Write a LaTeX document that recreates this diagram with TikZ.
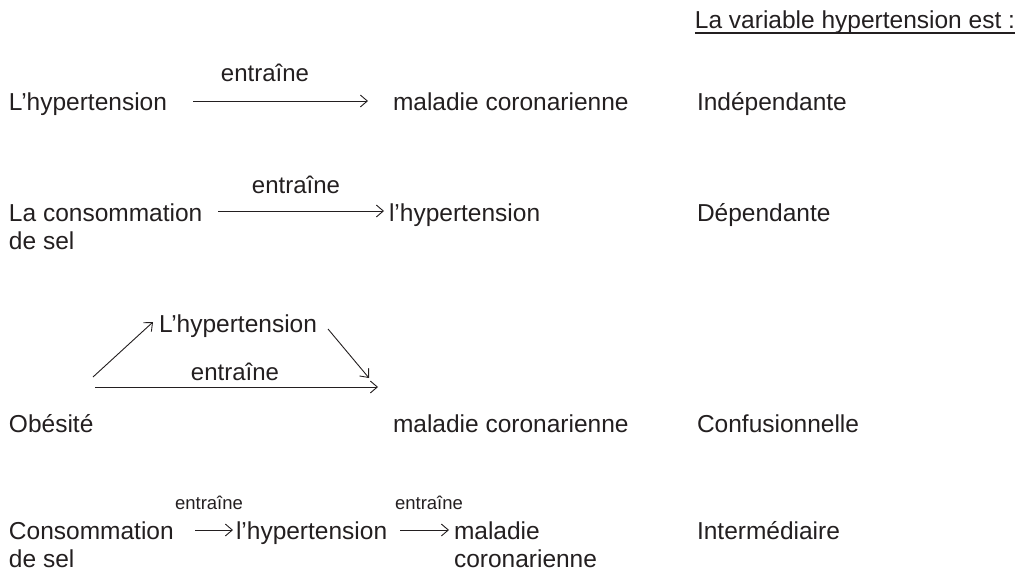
\documentclass[tikz,border=0pt]{standalone}
\usepackage{fontspec}
\setmainfont{Liberation Sans}
\usetikzlibrary{arrows.meta,calc}
\definecolor{ink}{HTML}{231F20}
\newcommand{\twolines}[2]{\vtop{\baselineskip=28pt\hbox{#1}\hbox{#2}}}
\begin{document}
\begin{tikzpicture}[x=1pt,y=-1pt,
  lbl/.style={inner sep=0pt,outer sep=0pt,anchor=base west,text=ink,font=\fontsize{24.5}{28}\selectfont},
  verb/.style={inner sep=0pt,outer sep=0pt,anchor=base,text=ink,font=\fontsize{24}{28}\selectfont},
  smallverb/.style={inner sep=0pt,outer sep=0pt,anchor=base,text=ink,font=\fontsize{18.5}{22}\selectfont},
  arr/.style={draw=ink,line width=0.9pt,-{Straight Barb[length=7pt,width=12pt,line width=0.9pt]}}]
\useasboundingbox (0,0) rectangle (1022,569);
% title
\node[lbl,anchor=base east] (title) at (1015,29) {La variable hypertension est :};
\draw[ink,line width=1.3pt] ($(title.base west)+(0,4)$) -- ($(title.base east)+(0,4)$);
% row 1
\node[lbl] (r1a) at (9,111) {L’hypertension};
\node[lbl] (r1b) at (393,111) {maladie coronarienne};
\node[lbl] (r1c) at (697,111) {Indépendante};
\node[verb] (r1v) at (265,82) {entraîne};
\draw[arr] ($(r1a.base east)+(26,-10)$) -- ($(r1b.base west)+(-25,-10)$);
% row 2
\node[lbl] (r2a) at (9,222) {\twolines{La consommation}{de sel}};
\node[lbl] (r2b) at (389,222) {l’hypertension};
\node[lbl] (r2c) at (697,222) {Dépendante};
\node[verb] (r2v) at (296,194) {entraîne};
\draw[arr] ($(r2a.base west)+(209,-11)$) -- ($(r2b.base west)+(-5,-11)$);
% row 3
\node[lbl] (r3h) at (159,332) {L’hypertension};
\node[verb] (r3v) at (235,380) {entraîne};
\node[lbl] (r3a) at (9,432) {Obésité};
\node[lbl] (r3b) at (393,432) {maladie coronarienne};
\node[lbl] (r3c) at (697,432) {Confusionnelle};
\coordinate (r3s) at (93,377);
\coordinate (r3t) at (153,322);
\coordinate (r3u) at (328,329);
\coordinate (r3w) at (369,378);
\coordinate (r3p) at (95,387);
\coordinate (r3q) at (378,387);
\draw[arr] (r3s) -- (r3t);
\draw[arr] (r3u) -- (r3w);
\draw[arr] (r3p) -- (r3q);
% row 4
\node[lbl] (r4a) at (9,539) {\twolines{Consommation}{de sel}};
\node[lbl] (r4b) at (236,539) {l’hypertension};
\node[lbl] (r4c) at (454,539) {\twolines{maladie}{coronarienne}};
\node[lbl] (r4d) at (697,539) {Intermédiaire};
\node[smallverb] (r4v1) at (209,509) {entraîne};
\node[smallverb] (r4v2) at (429,509) {entraîne};
\draw[arr] ($(r4b.base west)+(-41,-9)$) -- ($(r4b.base west)+(-3,-9)$);
\draw[arr] ($(r4c.base west)+(-54,-9)$) -- ($(r4c.base west)+(-5,-9)$);
\end{tikzpicture}
\end{document}
